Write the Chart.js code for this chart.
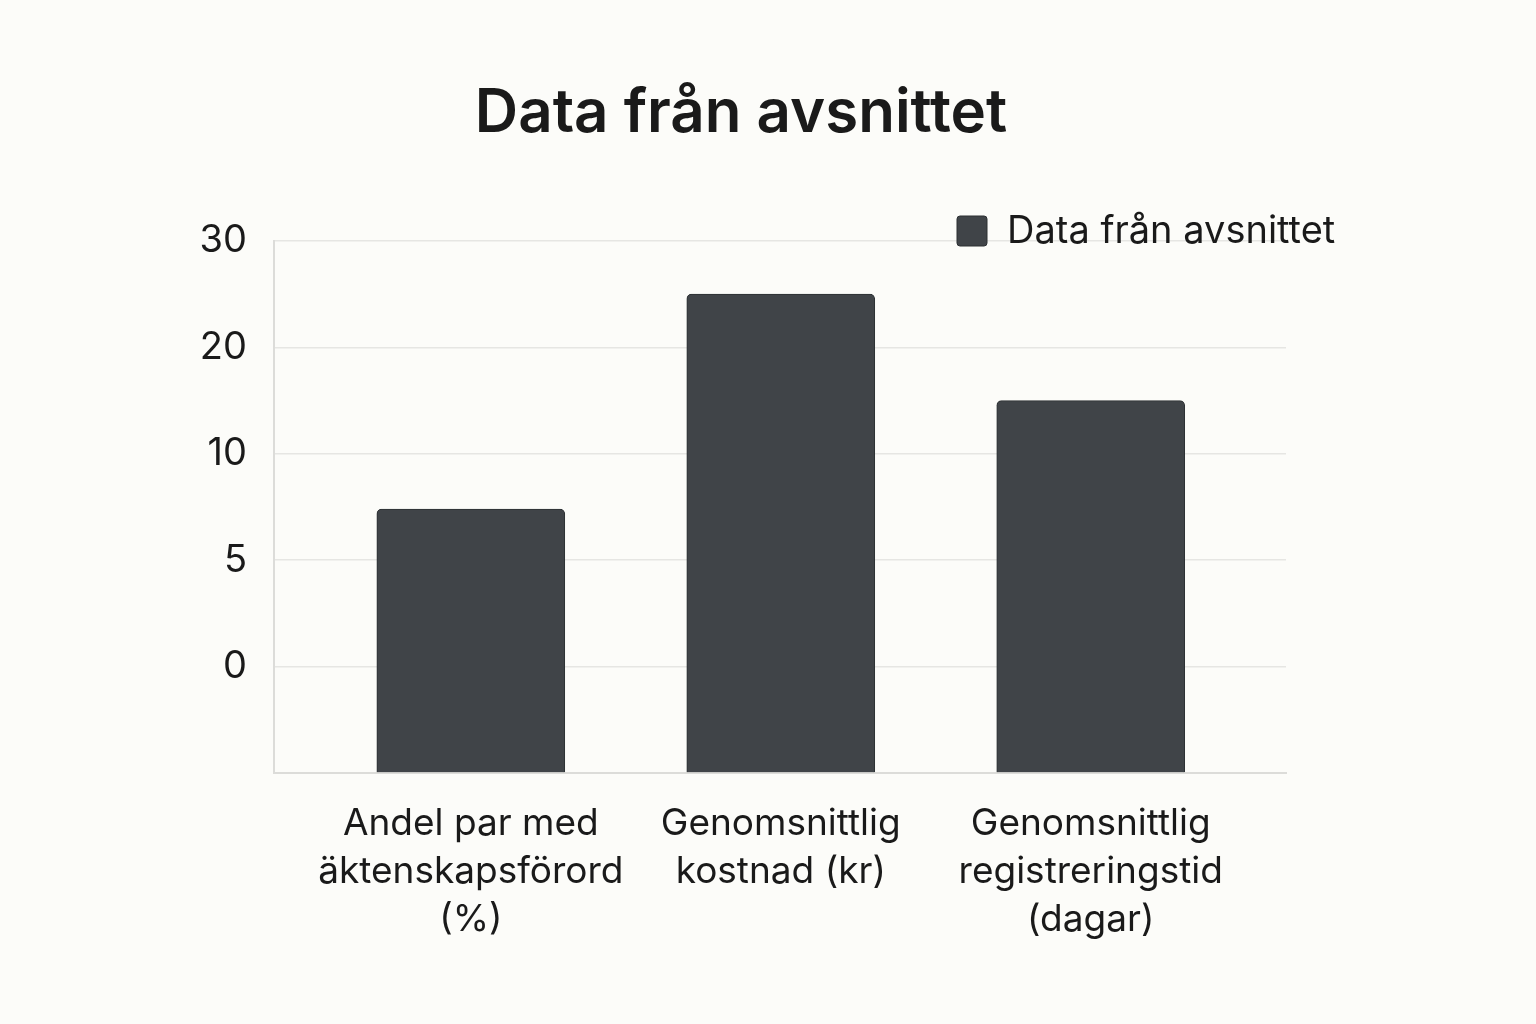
<!DOCTYPE html>
<html>
<head>
<meta charset="utf-8">
<script src="https://cdn.jsdelivr.net/npm/chart.js@4.4.1/dist/chart.umd.min.js"></script>
<style>
  html, body { margin: 0; padding: 0; background: #fcfcf9; }
  #wrap { width: 1536px; height: 1024px; }
</style>
</head>
<body>
<div id="wrap"><canvas id="c" width="1536" height="1024"></canvas></div>
<script>
// ---- Data ----
const chartTitle = 'Data från avsnittet';
const seriesLabel = 'Data från avsnittet';
const categories = [
  ['Andel par med', 'äktenskapsförord', '(%)'],
  ['Genomsnittlig', 'kostnad (kr)'],
  ['Genomsnittlig', 'registreringstid', '(dagar)']
];
const values = [7.4, 25, 15];
// y-axis tick labels (evenly spaced on the axis, bottom position unlabeled)
const yTickLabels = ['', '0', '5', '10', '20', '30'];
const yTickValues = [0, 5, 10, 20, 30];

// map a value onto the evenly spaced tick positions (position 1 = "0")
function toAxisPos(v) {
  for (let i = 0; i < yTickValues.length - 1; i++) {
    const a = yTickValues[i], b = yTickValues[i + 1];
    if (v <= b) return (i + 1) + (v - a) / (b - a);
  }
  return yTickValues.length;
}

const barColor = '#404448';
const barBorder = '#2c3033';
const FONT = 'Inter, "Noto Sans", "DejaVu Sans", sans-serif';

const bgPlugin = {
  id: 'bg',
  beforeDraw(chart) {
    const ctx = chart.ctx;
    ctx.save();
    ctx.fillStyle = '#fcfcf9';
    ctx.fillRect(0, 0, chart.width, chart.height);
    ctx.restore();
  }
};

const legendPlugin = {
  id: 'customLegend',
  afterDraw(chart) {
    const ctx = chart.ctx;
    const ds = chart.data.datasets[0];
    ctx.save();
    const x = 957, y = 216, s = 30;
    ctx.beginPath();
    if (ctx.roundRect) ctx.roundRect(x, y, s, s, 3); else ctx.rect(x, y, s, s);
    ctx.fillStyle = ds.backgroundColor;
    ctx.fill();
    ctx.lineWidth = 1;
    ctx.strokeStyle = ds.borderColor;
    ctx.stroke();
    ctx.fillStyle = '#1a1a1a';
    ctx.font = '38px ' + FONT;
    ctx.textBaseline = 'middle';
    ctx.textAlign = 'left';
    ctx.fillText(ds.label, 1007, y + s / 2 + 1);
    ctx.restore();
  }
};

new Chart(document.getElementById('c'), {
  type: 'bar',
  data: {
    datasets: [{
      label: seriesLabel,
      data: values.map((v, i) => ({ x: i, y: toAxisPos(v) })),
      backgroundColor: barColor,
      borderColor: barBorder,
      borderWidth: 1,
      borderRadius: 5,
      borderSkipped: 'start',
      barThickness: 188
    }]
  },
  options: {
    responsive: false,
    animation: false,
    devicePixelRatio: 1,
    layout: { padding: { top: 0, left: 196, right: 250, bottom: 0 } },
    plugins: {
      legend: { display: false },
      tooltip: { enabled: false },
      title: {
        display: true,
        text: chartTitle,
        color: '#1a1a1a',
        font: { family: FONT, size: 60, weight: '600', lineHeight: 1.2 },
        padding: { top: 78, bottom: 241 - 78 - 72 }
      }
    },
    scales: {
      x: {
        type: 'linear',
        offset: false,
        bounds: 'data',
        min: -0.635,
        max: 2.63,
        afterBuildTicks(scale) { scale.ticks = categories.map((_, i) => ({ value: i })); },
        afterFit(scale) { scale.height = 251; },
        grid: { display: false, drawTicks: false, offset: false },
        border: { display: true, color: '#dcdcd9', width: 2 },
        ticks: {
          padding: 27,
          maxRotation: 0,
          autoSkip: false,
          color: '#1a1a1a',
          font: { family: FONT, size: 37, lineHeight: 1.3 },
          callback: (v) => categories[v] || ''
        }
      },
      y: {
        min: 0,
        max: yTickLabels.length - 1,
        afterFit(scale) { scale.width = 78; },
        grid: { color: '#e6e6e3', lineWidth: 1.5, drawTicks: false },
        border: { display: true, color: '#dcdcd9', width: 2 },
        ticks: {
          stepSize: 1,
          padding: 27,
          color: '#1a1a1a',
          font: { family: FONT, size: 38 },
          callback: (v) => yTickLabels[v] ?? ''
        }
      }
    }
  },
  plugins: [bgPlugin, legendPlugin]
});
</script>
</body>
</html>
